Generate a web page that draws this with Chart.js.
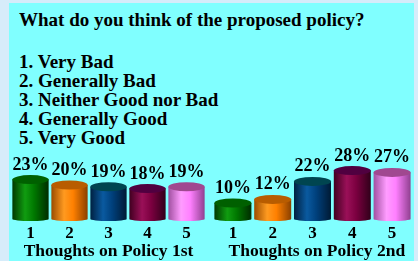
<!DOCTYPE html>
<html>
<head>
<meta charset="utf-8">
<script src="https://cdn.jsdelivr.net/npm/chart.js@4.4.1/dist/chart.umd.min.js"></script>
<style>
  html, body { margin: 0; padding: 0; }
  body { width: 418px; height: 261px; background: #d6ecfa; position: relative; overflow: hidden; font-family: 'Liberation Serif', 'Times New Roman', serif; }
  #panel { position: absolute; left: 9px; top: 3px; width: 405px; height: 258px; background: #80ffff; }
  #title { position: absolute; left: 19px; top: 10px; font-weight: bold; font-size: 19px; line-height: 20px; color: #000; white-space: nowrap; }
  #answers { position: absolute; left: 19px; top: 52px; font-weight: bold; font-size: 19px; line-height: 19px; color: #000; white-space: nowrap; }
  canvas { position: absolute; }
  #c1 { left: 9px; top: 140px; }
  #c2 { left: 209px; top: 140px; }
</style>
</head>
<body>
<div id="panel"></div>
<div id="title"></div>
<div id="answers"></div>
<canvas id="c1" width="200" height="121"></canvas>
<canvas id="c2" width="205" height="121"></canvas>
<script>
const question = 'What do you think of the proposed policy?';
const answers = ['1. Very Bad', '2. Generally Bad', '3. Neither Good nor Bad', '4. Generally Good', '5. Very Good'];
const categories = ['1', '2', '3', '4', '5'];
const policy1st = [23, 20, 19, 18, 19];
const policy2nd = [10, 12, 22, 28, 27];
const groupTitles = ['Thoughts on Policy 1st', '  Thoughts on Policy 2nd'];

document.getElementById('title').textContent = question;
document.getElementById('answers').innerHTML = answers.map(a => `<div>${a}</div>`).join('');

// cylinder shading: [dark edge, highlight, body, dark edge, top ellipse]
const shades = [
  ['#003800', '#109c10', '#007800', '#002c00', '#006000'],
  ['#9a4c00', '#ff9a20', '#ff8000', '#8a4000', '#b85c00'],
  ['#002040', '#0a5aa0', '#00407c', '#001a34', '#004550'],
  ['#400020', '#9a1058', '#7c0040', '#30001a', '#500040'],
  ['#a050a0', '#ff9cff', '#ff80ff', '#904090', '#a04890']
];

const cylinders = {
  id: 'cylinders',
  afterDatasetsDraw(chart) {
    const ctx = chart.ctx;
    const meta = chart.getDatasetMeta(0);
    const values = chart.data.datasets[0].data;
    meta.data.forEach((bar, i) => {
      const s = shades[i];
      const rx = bar.width / 2;
      const ry = 4.5;
      const left = bar.x - rx;
      const base = bar.base - 2;
      const g = ctx.createLinearGradient(left, 0, left + bar.width, 0);
      g.addColorStop(0, s[0]);
      g.addColorStop(0.35, s[1]);
      g.addColorStop(0.6, s[2]);
      g.addColorStop(1, s[3]);
      ctx.save();
      ctx.fillStyle = g;
      ctx.beginPath();
      ctx.moveTo(left, bar.y);
      ctx.lineTo(left, base);
      ctx.ellipse(bar.x, base, rx, 2, 0, Math.PI, 0, true);
      ctx.lineTo(left + bar.width, bar.y);
      ctx.closePath();
      ctx.fill();
      ctx.fillStyle = s[4];
      ctx.beginPath();
      ctx.ellipse(bar.x, bar.y, rx, ry, 0, 0, Math.PI * 2);
      ctx.fill();
      ctx.fillStyle = '#000';
      ctx.font = 'bold 18px "Liberation Serif"';
      ctx.textAlign = 'center';
      ctx.textBaseline = 'alphabetic';
      ctx.fillText(values[i] + '%', bar.x, bar.y - 10);
      ctx.restore();
    });
  }
};

function makeChart(id, values, title, pad) {
  return new Chart(document.getElementById(id), {
    type: 'bar',
    data: {
      labels: categories,
      datasets: [{ data: values, backgroundColor: 'rgba(0,0,0,0)', categoryPercentage: 1, barPercentage: 0.93 }]
    },
    options: {
      responsive: false,
      animation: false,
      layout: { padding: { left: pad[0], right: pad[1], top: 9, bottom: 4.5 } },
      plugins: { legend: { display: false }, tooltip: { enabled: false } },
      scales: {
        y: { display: false, min: 0, max: 40 },
        x: {
          border: { display: false },
          grid: { display: false, drawTicks: false },
          ticks: { color: '#000', padding: 4, font: { family: 'Liberation Serif', weight: 'bold', size: 17, lineHeight: 1 } },
          title: { display: true, text: title, color: '#000', padding: { top: 0, bottom: 0 }, font: { family: 'Liberation Serif', weight: 'bold', size: 17.5, lineHeight: 0.6 } }
        }
      }
    },
    plugins: [cylinders]
  });
}

makeChart('c1', policy1st, groupTitles[0], [2, 3]);
makeChart('c2', policy2nd, groupTitles[1], [4, 2]);
</script>
</body>
</html>
